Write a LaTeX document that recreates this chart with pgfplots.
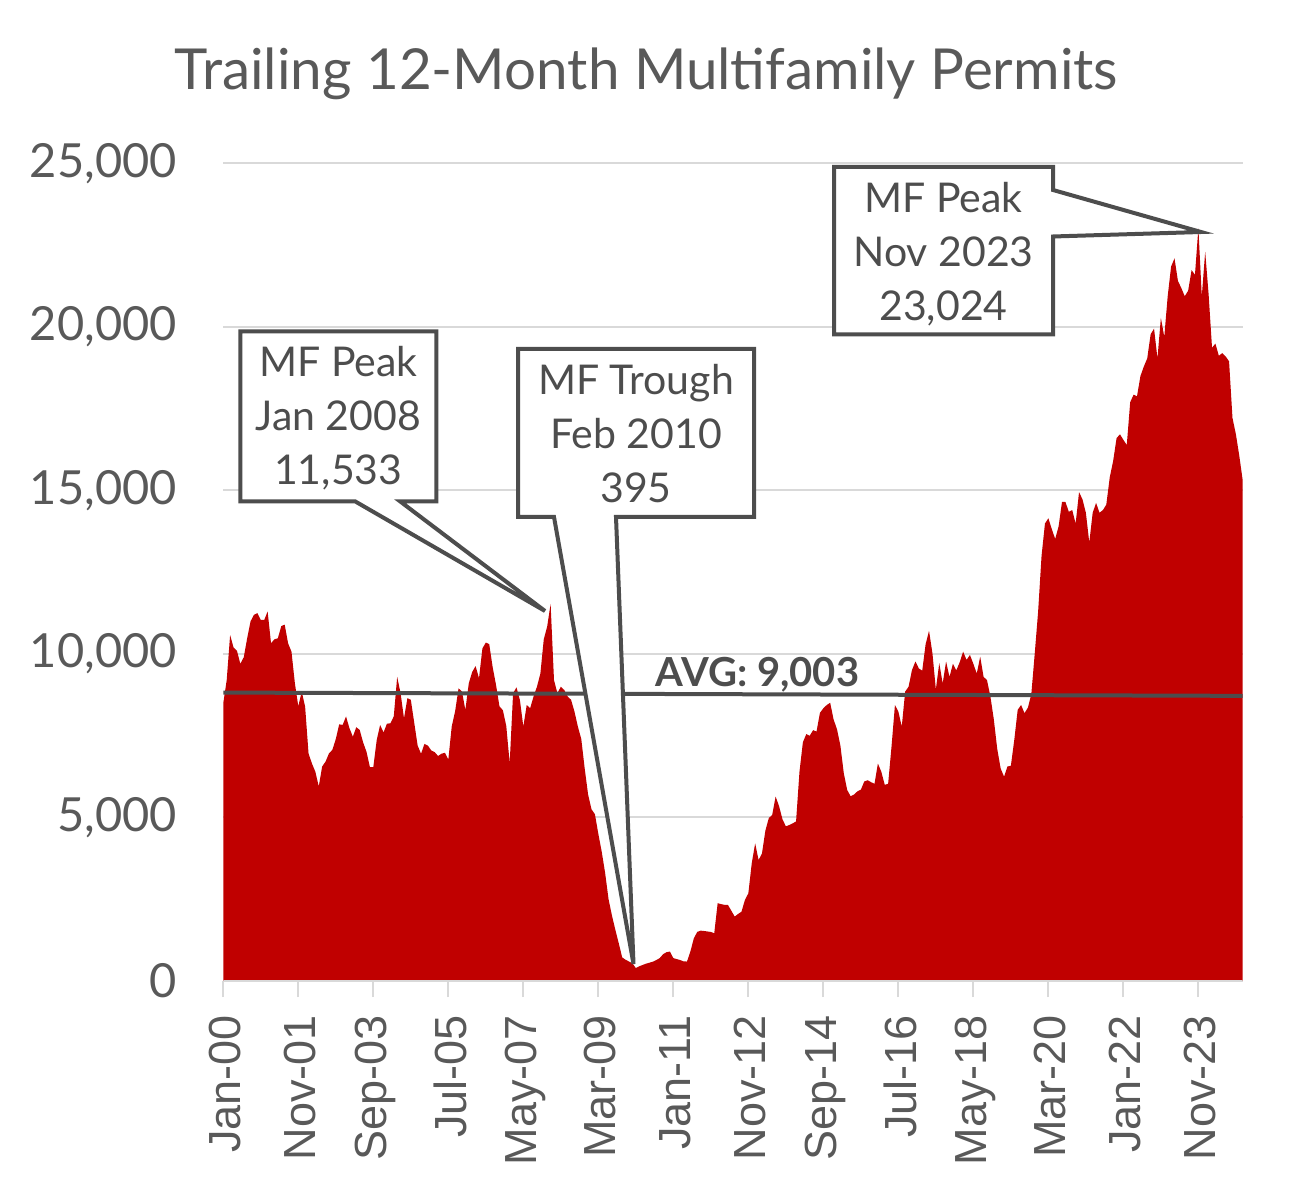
\documentclass[border=0pt]{standalone}
\usepackage{graphicx}
\usepackage{pgfplots}
\pgfplotsset{compat=1.18}
\usepackage{fontspec}
\setmainfont{Lato}
\newfontfamily\arialf{Liberation Sans}
\definecolor{exred}{HTML}{C00000}
\definecolor{txtgray}{HTML}{595959}
\definecolor{dgray}{HTML}{4D4D4D}
\definecolor{gridc}{HTML}{D9D9D9}
\begin{document}
\begin{tikzpicture}
\useasboundingbox (0,0) rectangle (646pt,600.5pt);
\begin{axis}[
  at={(111.65pt,110pt)}, anchor=south west,
  scale only axis, width=509.7pt, height=408.75pt,
  xmin=0, xmax=299, ymin=0, ymax=25000,
  axis line style={draw=none},
  ymajorgrids, grid style={gridc, line width=1pt},
  ytick={0,5000,...,25000},
  xtick={0,22,...,286},
  xticklabels={Jan-00,Nov-01,Sep-03,Jul-05,May-07,Mar-09,Jan-11,Nov-12,Sep-14,Jul-16,May-18,Mar-20,Jan-22,Nov-23},
  tick align=outside, major tick length=8pt,
  xtick pos=bottom, ytick pos=left,
  xtick style={draw=gridc, line width=1pt},
  ytick style={draw=none},
  xticklabel style={rotate=90, anchor=east, font=\arialf\fontsize{22.5}{26}\selectfont, text=txtgray, inner sep=0pt, xshift=-9pt, yshift=-1pt},
  yticklabel style={font=\fontsize{23.5}{27}\selectfont, text=txtgray, anchor=east, inner sep=0pt, xshift=-15pt},
  scaled y ticks=false,
  /pgf/number format/1000 sep={,},
  /pgf/number format/assume math mode=true,
]
\addplot[fill=exred, draw=none] coordinates {
(0,8500) (1,9200) (2,10580) (3,10200) (4,10100) (5,9700) (6,9900) (7,10480) (8,11000) (9,11200)
(10,11250) (11,11040) (12,11040) (13,11300) (14,10330) (15,10450) (16,10480) (17,10850) (18,10900) (19,10330)
(20,10070) (21,9100) (22,8400) (23,8850) (24,8390) (25,6960) (26,6650) (27,6400) (28,5950) (29,6560)
(30,6710) (31,6960) (32,7070) (33,7400) (34,7850) (35,7830) (36,8090) (37,7730) (38,7470) (39,7760)
(40,7680) (41,7300) (42,7010) (43,6540) (44,6540) (45,7370) (46,7830) (47,7600) (48,7870) (49,7880)
(50,8090) (51,9300) (52,8800) (53,8030) (54,8650) (55,8600) (56,7900) (57,7200) (58,6950) (59,7250)
(60,7200) (61,7050) (62,7000) (63,6880) (64,6950) (65,6980) (66,6770) (67,7780) (68,8250) (69,8950)
(70,8850) (71,8290) (72,9100) (73,9450) (74,9630) (75,9260) (76,10170) (77,10350) (78,10300) (79,9600)
(80,9050) (81,8400) (82,8280) (83,7800) (84,6660) (85,8800) (86,8980) (87,8590) (88,7780) (89,8440)
(90,8340) (91,8700) (92,9000) (93,9400) (94,10450) (95,10840) (96,11533) (97,9200) (98,8800) (99,9000)
(100,8900) (101,8700) (102,8600) (103,8240) (104,7780) (105,7400) (106,6500) (107,5700) (108,5250) (109,5100)
(110,4500) (111,3950) (112,3300) (113,2500) (114,2000) (115,1560) (116,1150) (117,720) (118,650) (119,595)
(120,540) (121,395) (122,450) (123,490) (124,530) (125,560) (126,590) (127,640) (128,700) (129,820)
(130,880) (131,900) (132,700) (133,670) (134,640) (135,600) (136,595) (137,900) (138,1300) (139,1500)
(140,1540) (141,1530) (142,1515) (143,1500) (144,1460) (145,2380) (146,2350) (147,2330) (148,2330) (149,2150)
(150,1970) (151,2050) (152,2120) (153,2480) (154,2680) (155,3600) (156,4210) (157,3700) (158,3900) (159,4600)
(160,4980) (161,5080) (162,5640) (163,5350) (164,4950) (165,4730) (166,4770) (167,4820) (168,4880) (169,6400)
(170,7300) (171,7550) (172,7500) (173,7670) (174,7630) (175,8200) (176,8340) (177,8440) (178,8510) (179,8000)
(180,7700) (181,7200) (182,6350) (183,5840) (184,5650) (185,5700) (186,5800) (187,5850) (188,6100) (189,6140)
(190,6080) (191,6030) (192,6650) (193,6400) (194,6000) (195,6030) (196,7170) (197,8440) (198,8240) (199,7780)
(200,8850) (201,9000) (202,9510) (203,9770) (204,9560) (205,9490) (206,10300) (207,10710) (208,10020) (209,8920)
(210,9720) (211,9100) (212,9770) (213,9300) (214,9700) (215,9500) (216,9750) (217,10070) (218,9820) (219,9970)
(220,9700) (221,9400) (222,9920) (223,9300) (224,9200) (225,8700) (226,8000) (227,7100) (228,6500) (229,6250)
(230,6560) (231,6580) (232,7370) (233,8290) (234,8440) (235,8190) (236,8360) (237,8770) (238,10010) (239,11300)
(240,13000) (241,13990) (242,14150) (243,13820) (244,13520) (245,13900) (246,14650) (247,14650) (248,14350) (249,14400)
(250,13990) (251,14950) (252,14730) (253,14320) (254,13410) (255,14320) (256,14620) (257,14320) (258,14400) (259,14570)
(260,15400) (261,15900) (262,16600) (263,16720) (264,16550) (265,16390) (266,17700) (267,17930) (268,17880) (269,18500)
(270,18790) (271,19040) (272,19780) (273,19950) (274,19040) (275,20280) (276,19700) (277,20940) (278,21850) (279,22100)
(280,21410) (281,21190) (282,20940) (283,21110) (284,21740) (285,21600) (286,23024) (287,20940) (288,22300) (289,21000)
(290,19370) (291,19490) (292,19120) (293,19200) (294,19100) (295,18950) (296,17220) (297,16720) (298,16060) (299,15310)
} \closedcycle;
\addplot[dgray, line width=2pt] coordinates {(0,8820) (299,8720)};
\draw[gridc, line width=1pt] (axis cs:0,0) -- (axis cs:299,0);
\end{axis}
\begin{scope}[x=0.5pt, y=-0.5pt, shift={(0pt,600.5pt)}]
\node[anchor=base, inner sep=0pt, text=txtgray] at (646.5,90) {\resizebox{471.5pt}{!}{\fontsize{29}{34}\selectfont Trailing 12-Month Multifamily Permits}};
\draw[dgray, fill=white, line width=2pt] (240.3,331.3) -- (436.3,331.3) -- (436.3,501.3) -- (400,501.3) -- (545,611) -- (355,501.3) -- (240.3,501.3) -- cycle;
\draw[dgray, fill=white, line width=2pt] (518,349) -- (754,349) -- (754,517) -- (616,517) -- (633.5,964) -- (554,517) -- (518,517) -- cycle;
\draw[dgray, fill=white, line width=2pt] (834,167) -- (1053,167) -- (1053,190) -- (1201,232) -- (1053,236.5) -- (1053,334.5) -- (834,334.5) -- cycle;
\node[anchor=base, align=center, inner sep=0pt, text=dgray, font=\fontsize{20.5}{27}\selectfont] at (338.3,484.7) {MF Peak\\Jan 2008\\11,533};
\node[anchor=base, align=center, inner sep=0pt, text=dgray, font=\fontsize{20.5}{27}\selectfont] at (636,502.4) {MF Trough\\Feb 2010\\395};
\node[anchor=base, align=center, inner sep=0pt, text=dgray, font=\fontsize{20.5}{27}\selectfont] at (943.5,320.4) {MF Peak\\Nov 2023\\23,024};
\node[anchor=base, inner sep=0pt, text=dgray, font=\bfseries\fontsize{20}{24}\selectfont] at (757.5,686.7) {AVG: 9,003};
\end{scope}
\end{tikzpicture}
\end{document}
